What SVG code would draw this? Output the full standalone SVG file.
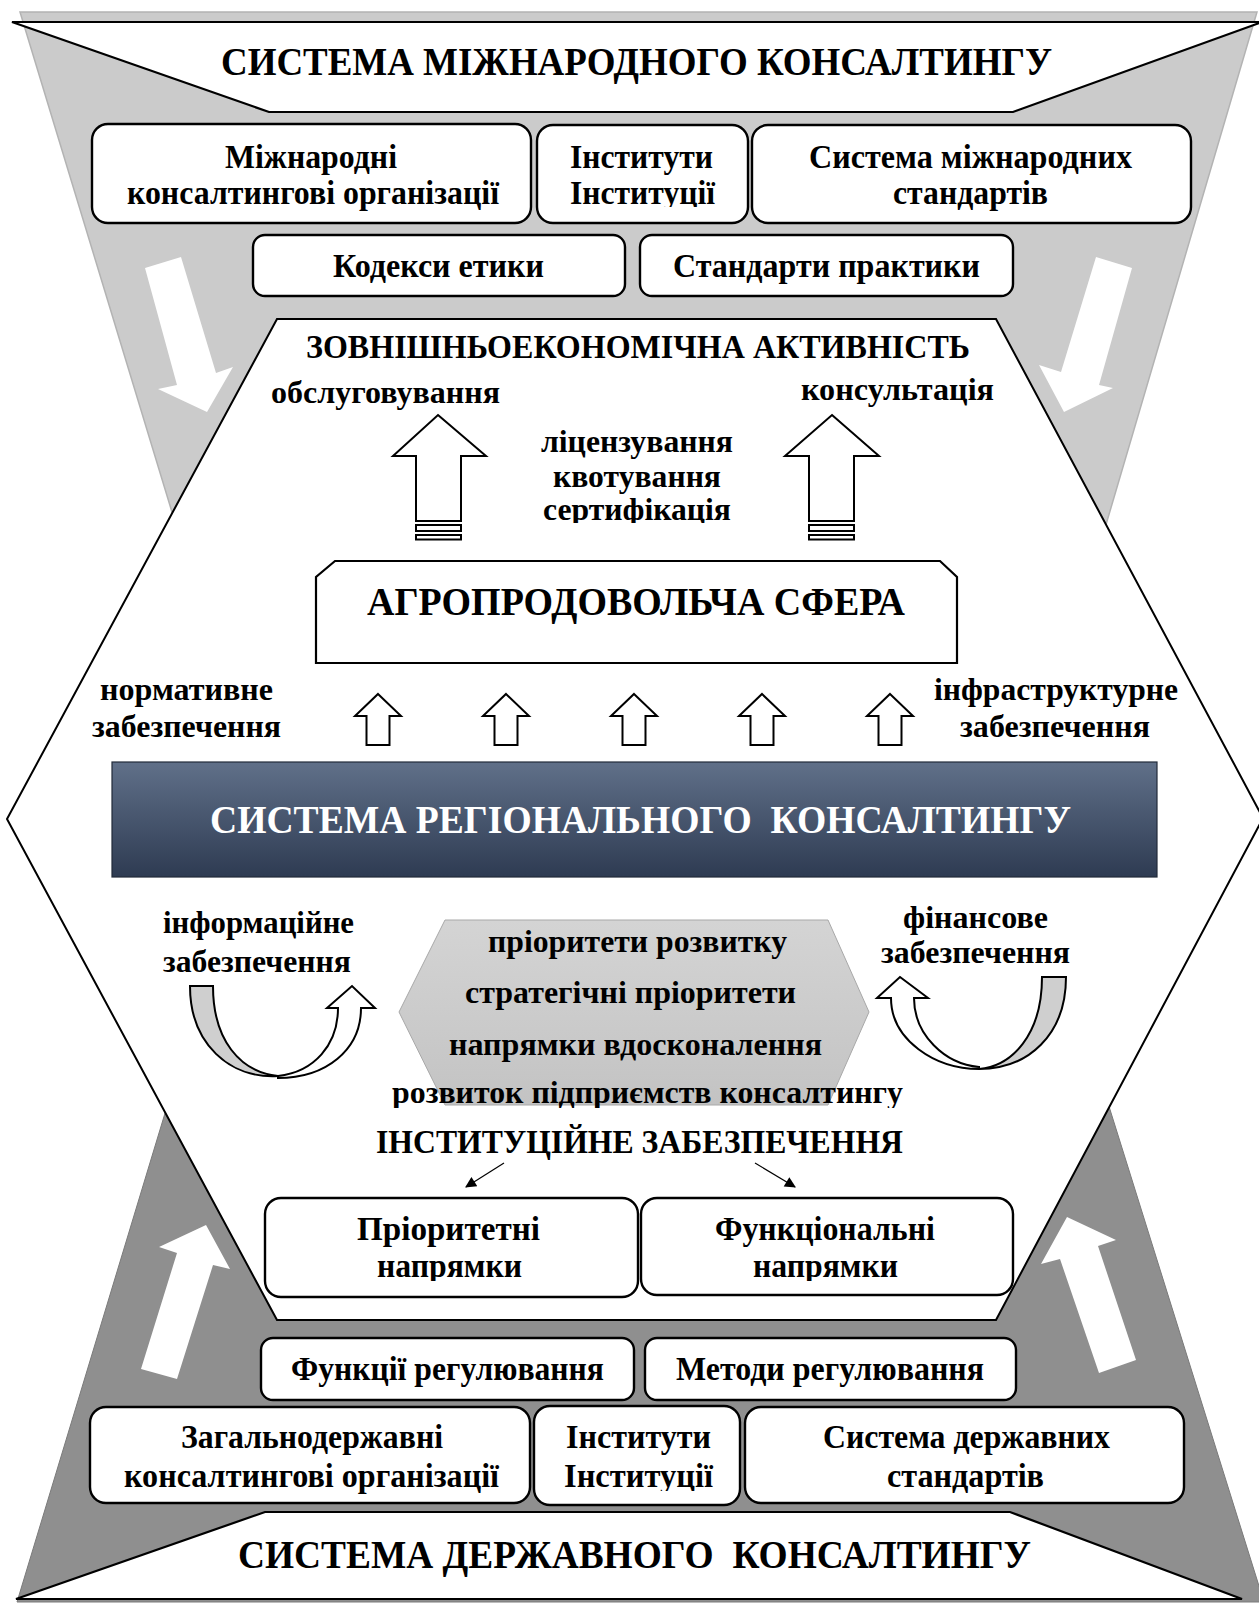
<svg xmlns="http://www.w3.org/2000/svg" width="1259" height="1603" viewBox="0 0 1259 1603">
<defs>
<style>
.t{font-family:"Liberation Serif","Times New Roman",serif;font-weight:bold;fill:#000;}
.w{fill:#fff;}
.box{fill:#fff;stroke:#000;stroke-width:2.4;}
.ol{fill:#fff;stroke:#000;stroke-width:2;stroke-linejoin:miter;}
.wa{fill:#fff;stroke:none;}
.conn{stroke:#000;stroke-width:1.2;fill:none;}
.bx{font-size:33px;}
.lb{font-size:31px;}
.tt{font-size:41px;}
</style>
<linearGradient id="reg" x1="0" y1="0" x2="0" y2="1">
<stop offset="0" stop-color="#607089"/>
<stop offset="1" stop-color="#2e3b52"/>
</linearGradient>
<linearGradient id="hexg" x1="0" y1="0" x2="0" y2="1">
<stop offset="0" stop-color="#d4d4d4"/>
<stop offset="1" stop-color="#c3c3c3"/>
</linearGradient>
<marker id="ah" viewBox="0 0 10 10" refX="9" refY="5" markerWidth="13" markerHeight="11" orient="auto" markerUnits="userSpaceOnUse">
<path d="M0,0 L10,5 L0,10 Z" fill="#000"/>
</marker>
<clipPath id="c1"><rect x="0" y="0" width="1259" height="523"/></clipPath>
<clipPath id="c2"><rect x="0" y="0" width="1259" height="1108"/></clipPath>
<clipPath id="c3"><rect x="0" y="0" width="1259" height="207"/></clipPath>
<clipPath id="c4"><rect x="0" y="0" width="1259" height="1281"/></clipPath>
<clipPath id="c5"><rect x="0" y="0" width="1259" height="1491"/></clipPath>
</defs>

<g id="funnel-top">
<polygon points="20,12 1257,12 1100,545 182,545" fill="#cbcbcb" stroke="#b3b3b3" stroke-width="1.5"/>
</g>
<g id="funnel-bottom">
<polygon points="169,1100 1107,1100 1264,1602 17,1602" fill="#8f8f8f" stroke="#7a7a7a" stroke-width="1"/>
</g>

<g id="flow-arrows">
<polygon class="wa" points="145,268 181,257 216,373 233,367 207,412 158,389 177,385"/>
<polygon class="wa" points="1132,268 1096,257 1061,372 1039,365 1064,412 1113,388 1099,385"/>
<polygon class="wa" points="206,1225 159,1247 177,1253 141,1369 177,1379 213,1265 230,1269"/>
<polygon class="wa" points="1067,1217 1116,1240 1098,1246 1136,1360 1099,1373 1060,1259 1041,1264"/>
</g>

<g id="intl-title">
<polygon points="12,22 1262,22 1013,112 269,112" fill="#fff" stroke="#000" stroke-width="2.2"/>
<text class="t tt" x="221" y="75" textLength="831" lengthAdjust="spacingAndGlyphs">СИСТЕМА МІЖНАРОДНОГО КОНСАЛТИНГУ</text>
</g>

<g id="intl-orgs">
<rect class="box" x="92" y="124" width="439" height="99" rx="16"/>
<text class="t bx" x="225" y="168" textLength="172" lengthAdjust="spacingAndGlyphs">Міжнародні</text>
<text class="t bx" x="127" y="204" textLength="372" lengthAdjust="spacingAndGlyphs">консалтингові організації</text>
</g>
<g id="intl-inst">
<rect class="box" x="537" y="125" width="211" height="98" rx="16"/>
<text class="t bx" x="570" y="168" textLength="143" lengthAdjust="spacingAndGlyphs">Інститути</text>
<text class="t bx" x="570" y="204" textLength="145" lengthAdjust="spacingAndGlyphs" clip-path="url(#c3)">Інституції</text>
</g>
<g id="intl-std">
<rect class="box" x="752" y="125" width="439" height="98" rx="16"/>
<text class="t bx" x="809" y="168" textLength="323" lengthAdjust="spacingAndGlyphs">Система міжнародних</text>
<text class="t bx" x="893" y="204" textLength="155" lengthAdjust="spacingAndGlyphs">стандартів</text>
</g>
<g id="intl-ethics">
<rect class="box" x="253" y="235" width="372" height="61" rx="12"/>
<text class="t bx" x="333" y="277" textLength="211" lengthAdjust="spacingAndGlyphs">Кодекси етики</text>
</g>
<g id="intl-practice">
<rect class="box" x="640" y="235" width="373" height="61" rx="12"/>
<text class="t bx" x="673" y="277" textLength="307" lengthAdjust="spacingAndGlyphs">Стандарти практики</text>
</g>

<g id="hexagon">
<polygon points="277,319 996,319 1263,818 996,1320 277,1320 7,819" fill="#fff" stroke="#000" stroke-width="2"/>
</g>

<g id="fea">
<text class="t" x="306" y="358" font-size="34" textLength="664" lengthAdjust="spacingAndGlyphs">ЗОВНІШНЬОЕКОНОМІЧНА АКТИВНІСТЬ</text>
<text class="t lb" x="271" y="403" textLength="229" lengthAdjust="spacingAndGlyphs">обслуговування</text>
<text class="t lb" x="801" y="400" textLength="193" lengthAdjust="spacingAndGlyphs">консультація</text>
<text class="t lb" x="541" y="452" textLength="192" lengthAdjust="spacingAndGlyphs">ліцензування</text>
<text class="t lb" x="553" y="487" textLength="168" lengthAdjust="spacingAndGlyphs">квотування</text>
<text class="t lb" x="543" y="520" textLength="188" lengthAdjust="spacingAndGlyphs" clip-path="url(#c1)">сертифікація</text>
</g>

<g id="big-arrows">
<polygon class="ol" points="438,415 486,456 461,456 461,521 416,521 416,456 393,456"/>
<rect class="ol" x="416" y="525" width="45" height="6"/>
<rect class="ol" x="416" y="535" width="45" height="4.5"/>
<polygon class="ol" points="832,415 879,456 854,456 854,521 809,521 809,456 785,456"/>
<rect class="ol" x="809" y="525" width="45" height="6"/>
<rect class="ol" x="809" y="535" width="45" height="4.5"/>
</g>

<g id="agro">
<polygon points="335,561 940,561 957,577 957,663 316,663 316,577" fill="#fff" stroke="#000" stroke-width="2.2"/>
<text class="t" x="367" y="615" font-size="40" textLength="538" lengthAdjust="spacingAndGlyphs">АГРОПРОДОВОЛЬЧА СФЕРА</text>
</g>

<g id="small-arrows">
<polygon class="ol" points="378,694 401,716 389.5,716 389.5,745 366.5,745 366.5,716 355,716"/>
<polygon class="ol" points="506,694 529,716 517.5,716 517.5,745 494.5,745 494.5,716 483,716"/>
<polygon class="ol" points="634,694 657,716 645.5,716 645.5,745 622.5,745 622.5,716 611,716"/>
<polygon class="ol" points="762,694 785,716 773.5,716 773.5,745 750.5,745 750.5,716 739,716"/>
<polygon class="ol" points="890,694 913,716 901.5,716 901.5,745 878.5,745 878.5,716 867,716"/>
</g>

<g id="labels-support">
<text class="t lb" x="100" y="700" textLength="173" lengthAdjust="spacingAndGlyphs">нормативне</text>
<text class="t lb" x="92" y="737" textLength="189" lengthAdjust="spacingAndGlyphs">забезпечення</text>
<text class="t lb" x="934" y="700" textLength="244" lengthAdjust="spacingAndGlyphs">інфраструктурне</text>
<text class="t lb" x="960" y="737" textLength="190" lengthAdjust="spacingAndGlyphs">забезпечення</text>
</g>

<g id="regional">
<rect x="112" y="762" width="1045" height="115" fill="url(#reg)" stroke="#222b3a" stroke-width="1.2"/>
<text class="t w tt" x="210" y="833" textLength="861" lengthAdjust="spacingAndGlyphs" xml:space="preserve">СИСТЕМА РЕГІОНАЛЬНОГО  КОНСАЛТИНГУ</text>
</g>

<g id="info">
<text class="t lb" x="163" y="933" textLength="191" lengthAdjust="spacingAndGlyphs">інформаційне</text>
<text class="t lb" x="163" y="972" textLength="188" lengthAdjust="spacingAndGlyphs">забезпечення</text>
<path d="M190,986 L213,986 C213,1040 240,1072 278,1076 C230,1079 190,1044 190,986 Z" fill="#cfcfcf" stroke="#000" stroke-width="2"/>
<path d="M278,1076 C314,1072 338,1045 338,1008 L327,1008 L352,986 L375,1008 L361,1008 C361,1050 326,1078 278,1078 Z" fill="#fff" stroke="#000" stroke-width="2"/>
</g>

<g id="finance">
<text class="t lb" x="903" y="928" textLength="145" lengthAdjust="spacingAndGlyphs">фінансове</text>
<text class="t lb" x="881" y="963" textLength="189" lengthAdjust="spacingAndGlyphs">забезпечення</text>
<path d="M1042,977 L1066,977 C1066,1035 1028,1069 979,1069 C1012,1066 1042,1035 1042,977 Z" fill="#cfcfcf" stroke="#000" stroke-width="2"/>
<path d="M979,1069 C935,1069 891,1040 891,998 L877,998 L900,977 L928,998 L914,998 C914,1035 945,1064 979,1067 Z" fill="#fff" stroke="#000" stroke-width="2"/>
</g>

<g id="priorities">
<polygon points="445,920 828,920 869,1012 828,1105 445,1105 399,1012" fill="url(#hexg)" stroke="#a8a8a8" stroke-width="1"/>
<text class="t lb" x="488" y="952" textLength="299" lengthAdjust="spacingAndGlyphs">пріоритети розвитку</text>
<text class="t lb" x="465" y="1003" textLength="331" lengthAdjust="spacingAndGlyphs">стратегічні пріоритети</text>
<text class="t lb" x="449" y="1055" textLength="373" lengthAdjust="spacingAndGlyphs">напрямки вдосконалення</text>
<text class="t lb" x="392" y="1103" textLength="511" lengthAdjust="spacingAndGlyphs" clip-path="url(#c2)">розвиток підприємств консалтингу</text>
</g>

<g id="inst-support">
<text class="t" x="376" y="1153" font-size="34" textLength="527" lengthAdjust="spacingAndGlyphs">ІНСТИТУЦІЙНЕ ЗАБЕЗПЕЧЕННЯ</text>
</g>

<g id="connectors">
<line class="conn" x1="504" y1="1163" x2="466" y2="1187" marker-end="url(#ah)"/>
<line class="conn" x1="755" y1="1163" x2="795" y2="1187" marker-end="url(#ah)"/>
</g>

<g id="prio-dir">
<rect class="box" x="265" y="1198" width="373" height="99" rx="16"/>
<text class="t bx" x="357" y="1240" textLength="183" lengthAdjust="spacingAndGlyphs">Пріоритетні</text>
<text class="t bx" x="377" y="1277" textLength="145" lengthAdjust="spacingAndGlyphs" clip-path="url(#c4)">напрямки</text>
</g>
<g id="func-dir">
<rect class="box" x="641" y="1198" width="372" height="97" rx="16"/>
<text class="t bx" x="715" y="1240" textLength="220" lengthAdjust="spacingAndGlyphs">Функціональні</text>
<text class="t bx" x="753" y="1277" textLength="145" lengthAdjust="spacingAndGlyphs" clip-path="url(#c4)">напрямки</text>
</g>

<g id="reg-func">
<rect class="box" x="261" y="1338" width="373" height="62" rx="12"/>
<text class="t bx" x="291" y="1380" textLength="313" lengthAdjust="spacingAndGlyphs">Функції регулювання</text>
</g>
<g id="reg-meth">
<rect class="box" x="645" y="1338" width="371" height="62" rx="12"/>
<text class="t bx" x="676" y="1380" textLength="308" lengthAdjust="spacingAndGlyphs">Методи регулювання</text>
</g>

<g id="state-orgs">
<rect class="box" x="90" y="1407" width="440" height="96" rx="16"/>
<text class="t bx" x="181" y="1448" textLength="262" lengthAdjust="spacingAndGlyphs">Загальнодержавні</text>
<text class="t bx" x="124" y="1487" textLength="375" lengthAdjust="spacingAndGlyphs">консалтингові організації</text>
</g>
<g id="state-inst">
<rect class="box" x="534" y="1406" width="206" height="99" rx="16"/>
<text class="t bx" x="566" y="1448" textLength="145" lengthAdjust="spacingAndGlyphs">Інститути</text>
<text class="t bx" x="564" y="1487" textLength="149" lengthAdjust="spacingAndGlyphs" clip-path="url(#c5)">Інституції</text>
</g>
<g id="state-std">
<rect class="box" x="745" y="1407" width="439" height="96" rx="16"/>
<text class="t bx" x="823" y="1448" textLength="287" lengthAdjust="spacingAndGlyphs">Система державних</text>
<text class="t bx" x="887" y="1487" textLength="157" lengthAdjust="spacingAndGlyphs">стандартів</text>
</g>

<g id="state-title">
<polygon points="265,1512 1010,1512 1242,1599 16,1599" fill="#fff" stroke="#000" stroke-width="2.2"/>
<text class="t tt" x="238" y="1568" textLength="793" lengthAdjust="spacingAndGlyphs" xml:space="preserve">СИСТЕМА ДЕРЖАВНОГО  КОНСАЛТИНГУ</text>
</g>
</svg>
